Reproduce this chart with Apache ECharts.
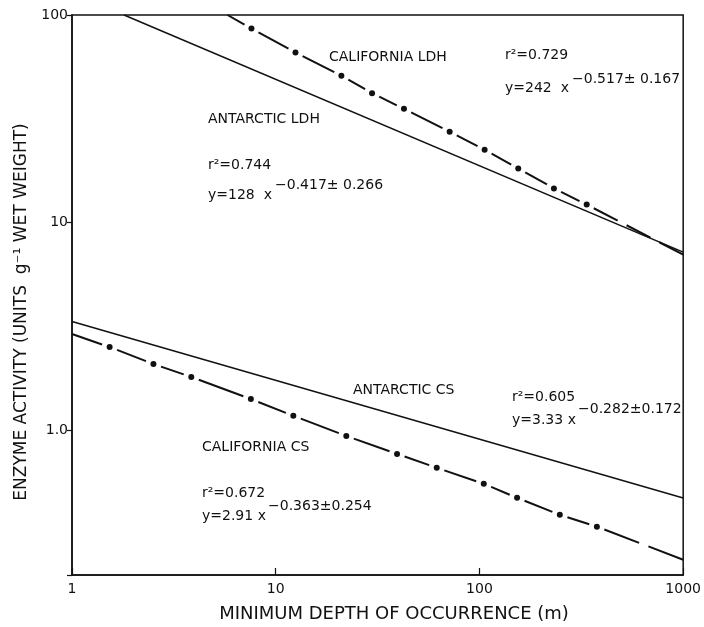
<!DOCTYPE html>
<html>
<head>
<meta charset="utf-8">
<script src="https://cdn.jsdelivr.net/npm/echarts@6/dist/echarts.min.js"></script>
<style>
  html, body { margin: 0; padding: 0; background: #fff; }
  #main { width: 704px; height: 627px; }
</style>
</head>
<body>
<div id="main"></div>
<script>
// tick labels
var xTicks = [1, 10, 100, 1000];
var yTicks = [1, 10, 100];

// fitted lines: [depth m, activity]
var antarcticLDH = [[1.8, 100], [1000, 7.2]];
var antarcticCS = [[1, 3.33], [1000, 0.47]];

// dash-dot lines: [depth m, activity, has dot]
var californiaLDH = [
  [5.8, 100, 0], [7.6, 86, 1], [12.5, 66, 1], [21, 51, 1], [29.7, 42, 1],
  [42.6, 35.3, 1], [71.4, 27.4, 1], [106, 22.4, 1], [155, 18.2, 1],
  [232, 14.6, 1], [336, 12.2, 1], [1000, 7.0, 0]
];
var californiaCS = [
  [1, 2.9, 0], [1.53, 2.51, 1], [2.51, 2.08, 1], [3.85, 1.8, 1], [7.55, 1.41, 1],
  [12.2, 1.17, 1], [22.2, 0.936, 1], [39.4, 0.767, 1], [61.7, 0.657, 1],
  [105, 0.55, 1], [153, 0.471, 1], [248, 0.39, 1], [377, 0.342, 1],
  [1000, 0.237, 0]
];

var INK = '#111';
var FONT = 'DejaVu Sans';
var DASH = 30, SPACE = 10, GAP = 8;

var myChart = echarts.init(document.getElementById('main'));

// long dashes with a dot in some of the gaps
function dashDot(points) {
  return {
    type: 'custom',
    coordinateSystem: 'cartesian2d',
    silent: true,
    data: points,
    renderItem: function (params, api) {
      var i = params.dataIndex;
      var p = api.coord([api.value(0), api.value(1)]);
      var children = [];
      if (api.value(2)) {
        children.push({ type: 'circle', shape: { cx: p[0], cy: p[1], r: 3 }, style: { fill: INK } });
      }
      if (i < points.length - 1) {
        var nxt = points[i + 1];
        var q = api.coord([nxt[0], nxt[1]]);
        var dx = q[0] - p[0], dy = q[1] - p[1];
        var len = Math.sqrt(dx * dx + dy * dy);
        var ux = dx / len, uy = dy / len;
        var s = api.value(2) ? GAP : 0;
        var e = len - (nxt[2] ? GAP : 0);
        var avail = e - s;
        var k = Math.max(1, Math.round((avail + SPACE) / (DASH + SPACE)));
        var d = (avail - (k - 1) * SPACE) / k;
        for (var j = 0; j < k; j++) {
          var a = s + j * (d + SPACE), b = a + d;
          children.push({
            type: 'line',
            shape: { x1: p[0] + ux * a, y1: p[1] + uy * a, x2: p[0] + ux * b, y2: p[1] + uy * b },
            style: { stroke: INK, lineWidth: 2 }
          });
        }
      }
      return { type: 'group', children: children };
    }
  };
}

function solid(points) {
  return {
    type: 'line',
    silent: true,
    showSymbol: false,
    data: points,
    lineStyle: { color: INK, width: 1.5 }
  };
}

function txt(x, y, s) {
  return {
    type: 'text', x: x, y: y, silent: true,
    style: { text: s, fill: INK, font: '14px "' + FONT + '"', textAlign: 'left', textVerticalAlign: 'middle' }
  };
}

var option = {
  animation: false,
  grid: { left: 72, right: 17, top: 15, bottom: 52, show: true, borderColor: INK, borderWidth: 1.5 },
  xAxis: {
    type: 'log', logBase: 10, min: xTicks[0], max: xTicks[xTicks.length - 1],
    axisLine: { lineStyle: { color: INK, width: 1.5 } },
    axisTick: { inside: true, length: 7, lineStyle: { color: INK, width: 1.2 } },
    axisLabel: {
      color: INK, fontFamily: FONT, fontSize: 14, margin: 7, showMinLabel: true, showMaxLabel: true,
      formatter: function (v) { return String(Math.round(v)); }
    },
    splitLine: { show: false }
  },
  yAxis: {
    type: 'log', logBase: 10, min: 0.2, max: yTicks[yTicks.length - 1],
    axisLine: { lineStyle: { color: INK, width: 1.5 } },
    axisTick: { length: 5, lineStyle: { color: INK, width: 1.2 } },
    axisLabel: {
      color: INK, fontFamily: FONT, fontSize: 14, margin: 4,
      formatter: function (v) {
        if (v < 0.5) return '';
        return Math.abs(v - 1) < 1e-6 ? '1.0' : String(Math.round(v));
      }
    },
    splitLine: { show: false }
  },
  graphic: [
    {
      type: 'text', x: 22, y: 312, rotation: Math.PI / 2, silent: true,
      style: { text: 'ENZYME ACTIVITY (UNITS  g⁻¹ WET WEIGHT)', fill: INK, font: '17px "' + FONT + '"', textAlign: 'center', textVerticalAlign: 'middle' }
    },
    {
      type: 'text', x: 394, y: 614, silent: true,
      style: { text: 'MINIMUM DEPTH OF OCCURRENCE (m)', fill: INK, font: '18px "' + FONT + '"', textAlign: 'center', textVerticalAlign: 'middle' }
    },
    txt(329, 57, 'CALIFORNIA LDH'),
    txt(505, 55, 'r²=0.729'),
    txt(505, 88, 'y=242  x'),
    txt(572, 79, '−0.517± 0.167'),
    txt(208, 119, 'ANTARCTIC LDH'),
    txt(208, 165, 'r²=0.744'),
    txt(208, 195, 'y=128  x'),
    txt(275, 185, '−0.417± 0.266'),
    txt(353, 390, 'ANTARCTIC CS'),
    txt(512, 397, 'r²=0.605'),
    txt(512, 420, 'y=3.33 x'),
    txt(578, 409, '−0.282±0.172'),
    txt(202, 447, 'CALIFORNIA CS'),
    txt(202, 493, 'r²=0.672'),
    txt(202, 516, 'y=2.91 x'),
    txt(268, 506, '−0.363±0.254')
  ],
  series: [
    solid(antarcticLDH),
    solid(antarcticCS),
    dashDot(californiaLDH),
    dashDot(californiaCS)
  ]
};

myChart.setOption(option);
window.addEventListener('resize', myChart.resize);
</script>
</body>
</html>
